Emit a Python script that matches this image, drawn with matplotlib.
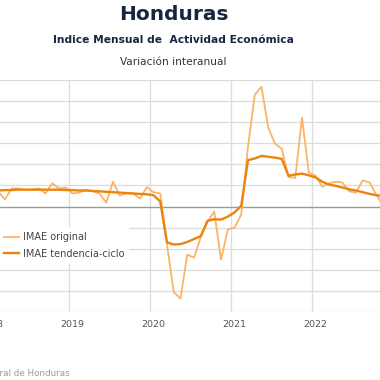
import matplotlib
matplotlib.use("Agg")
from matplotlib import pyplot as plt
import numpy as np

# monthly values, Jan 2018 - Dec 2022 (variacion interanual, %)
years = ["2018", "2019", "2020", "2021", "2022"]

imae_original = [4.0, 3.5, 1.7, 4.3, 4.3, 4.0, 4.0, 4.3, 3.1, 5.5, 4.3, 4.5,
                 3.1, 3.3, 4.0, 3.6, 3.1, 0.9, 5.9, 2.6, 3.1, 3.1, 1.9, 4.6,
                 3.4, 3.1, -9.0, -20.3, -21.8, -11.4, -12.1, -7.3, -3.6, -1.2, -12.6, -5.5,
                 -5.0, -1.9, 14.2, 26.5, 28.4, 18.7, 14.9, 13.7, 7.0, 6.8, 21.1, 8.1,
                 7.3, 4.7, 5.5, 5.9, 5.7, 3.6, 3.3, 6.2, 5.7, 2.8, 0.3, 1.5]

imae_tendencia = [3.8, 3.8, 3.9, 3.9, 4.0, 4.0, 4.0, 4.0, 4.0, 4.0, 4.0, 3.9,
                  3.9, 3.8, 3.8, 3.7, 3.6, 3.5, 3.4, 3.3, 3.2, 3.1, 3.0, 2.9,
                  2.7, 1.2, -8.5, -9.0, -8.9, -8.4, -7.7, -7.0, -3.4, -3.0, -3.1, -2.4,
                  -1.4, 0.2, 11.0, 11.4, 12.0, 11.8, 11.6, 11.3, 7.3, 7.6, 7.8, 7.4,
                  6.9, 5.9, 5.2, 4.9, 4.5, 4.1, 3.8, 3.4, 3.0, 2.7, 2.5, 2.3]

months = np.arange(len(imae_original))

fig = plt.figure(figsize=(3.8, 3.8), dpi=100)
# plot area is wider than the picture (chart was cut on both sides)
ax = fig.add_axes([-30 / 380, 68 / 380, 440 / 380, 232 / 380])

for v in range(-25, 35, 5):
    if v == 0:
        continue
    ax.axhline(v, color="#dcdcdc", linewidth=0.9, zorder=0)
for k in range(len(years) + 1):
    ax.axvline(12 * k - 0.5, color="#dcdcdc", linewidth=0.9, zorder=0)
ax.axhline(0, color="#9a9a9a", linewidth=1.0, zorder=1)

ax.plot(months, imae_original, color="#fbb466", linewidth=1.3, label="IMAE original", zorder=2)
ax.plot(months, imae_tendencia, color="#ea840f", linewidth=1.7, label="IMAE tendencia-ciclo", zorder=3)

ax.set_xlim(-3.185, 62.0)
ax.set_ylim(-25, 30)
ax.set_xticks([12 * k for k in range(len(years))])
ax.set_xticklabels(years, color="#555555", fontsize=6.8)
ax.set_yticks([])
ax.tick_params(axis="x", length=0, pad=6)
for s in ax.spines.values():
    s.set_visible(False)

leg = ax.legend(loc="upper left", bbox_to_anchor=(-0.016, 0.415), bbox_transform=fig.transFigure,
                frameon=True, fancybox=False, edgecolor="none", facecolor="white", framealpha=1,
                fontsize=7, handlelength=1.6, handletextpad=0.4, borderpad=0.5, labelspacing=0.7)
for t in leg.get_texts():
    t.set_color("#444444")

fig.text(174 / 380, 1 - 15 / 380, "Honduras", ha="center", va="center",
         fontsize=14.5, fontweight="bold", color="#17253f")
fig.text(173 / 380, 1 - 40 / 380, "Indice Mensual de  Actividad Económica", ha="center", va="center",
         fontsize=7.7, fontweight="bold", color="#17253f")
fig.text(173 / 380, 1 - 62 / 380, "Variación interanual", ha="center", va="center",
         fontsize=7.6, color="#2b3548")
fig.text(70 / 380, 1 - 373 / 380, "Fuente: Banco Central de Honduras", ha="right", va="center",
         fontsize=6.3, color="#9a9a9a")

plt.savefig("out.png", dpi=100)
